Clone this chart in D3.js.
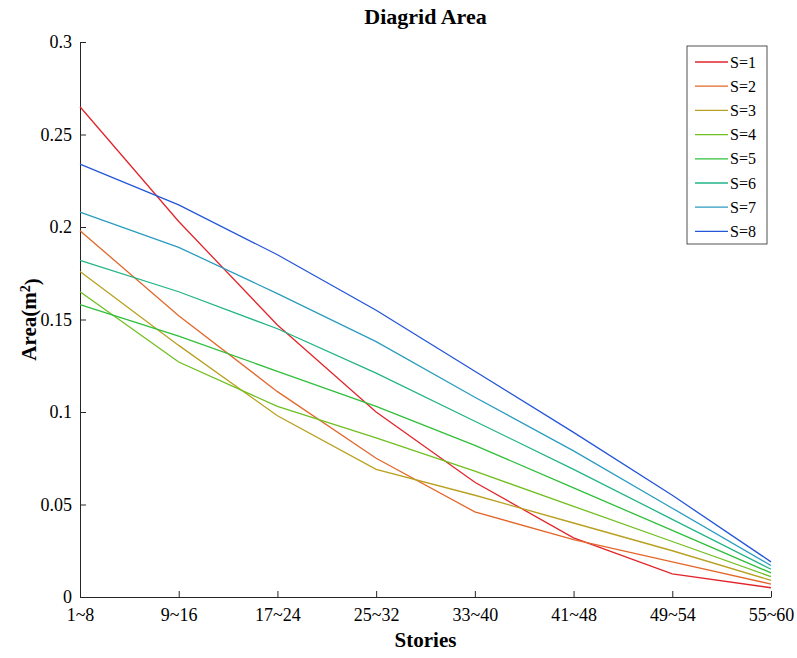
<!DOCTYPE html>
<html>
<head>
<meta charset="utf-8">
<script src="https://cdn.jsdelivr.net/npm/d3@7"></script>
<style>
  body { margin: 0; background: #fff; }
  svg { font-family: "Liberation Serif", "Times New Roman", serif; }
  .axis path, .axis line { stroke: #262626; }
  .axis text { fill: #000; font-size: 18px; font-family: "Liberation Serif", serif; }
</style>
</head>
<body>
<div id="vis"></div>
<script>
// Categories on the x axis
var stories = ['1~8', '9~16', '17~24', '25~32', '33~40', '41~48', '49~54', '55~60'];

// One value list per series (area in m^2)
var s1 = [0.265, 0.203, 0.147, 0.100, 0.062, 0.032, 0.0125, 0.005];
var s2 = [0.198, 0.152, 0.111, 0.075, 0.046, 0.031, 0.019, 0.007];
var s3 = [0.176, 0.136, 0.098, 0.069, 0.055, 0.040, 0.025, 0.009];
var s4 = [0.165, 0.127, 0.103, 0.086, 0.068, 0.049, 0.030, 0.011];
var s5 = [0.158, 0.141, 0.122, 0.103, 0.082, 0.059, 0.036, 0.013];
var s6 = [0.182, 0.165, 0.145, 0.121, 0.095, 0.069, 0.042, 0.015];
var s7 = [0.208, 0.189, 0.164, 0.138, 0.108, 0.079, 0.048, 0.017];
var s8 = [0.234, 0.212, 0.185, 0.155, 0.122, 0.089, 0.055, 0.019];

var seriesNames = ['S=1', 'S=2', 'S=3', 'S=4', 'S=5', 'S=6', 'S=7', 'S=8'];
var colors = ['#e2252b', '#e3672a', '#b9a020', '#6fbf1f', '#2fbf3a', '#22b487', '#2a9cc0', '#2456d8'];

// Y tick values
var yTicks = [0, 0.05, 0.1, 0.15, 0.2, 0.25, 0.3];

var allSeries = [s1, s2, s3, s4, s5, s6, s7, s8];

// Size of the page and space for axes/titles
var width = 797, height = 658;
var margin = { left: 80, right: 26, top: 42, bottom: 61 };
var drawWidth = width - margin.left - margin.right;
var drawHeight = height - margin.top - margin.bottom;

var svg = d3.select('#vis')
    .append('svg')
    .attr('width', width)
    .attr('height', height);

var g = svg.append('g')
    .attr('transform', 'translate(' + margin.left + ',' + margin.top + ')');

// Scales
var xScale = d3.scalePoint()
    .domain(stories)
    .range([0, drawWidth]);

var yScale = d3.scaleLinear()
    .domain([0, 0.3])
    .range([drawHeight, 0]);

// Axes, ticks pointing inward
var xAxis = d3.axisBottom(xScale)
    .tickSize(-6)
    .tickSizeOuter(0)
    .tickPadding(11);

var yAxis = d3.axisLeft(yScale)
    .tickValues(yTicks)
    .tickFormat(d3.format('~g'))
    .tickSize(-6)
    .tickSizeOuter(0)
    .tickPadding(8);

g.append('g')
    .attr('class', 'axis')
    .attr('transform', 'translate(0,' + drawHeight + ')')
    .call(xAxis);

g.append('g')
    .attr('class', 'axis')
    .call(yAxis);

// Lines
var line = d3.line()
    .x(function(d, i) { return xScale(stories[i]); })
    .y(function(d) { return yScale(d); });

g.selectAll('.series')
    .data(allSeries)
    .enter().append('path')
    .attr('class', 'series')
    .attr('fill', 'none')
    .attr('stroke', function(d, i) { return colors[i]; })
    .attr('stroke-width', 1.3)
    .attr('d', line);

// Title
svg.append('text')
    .attr('x', margin.left + drawWidth / 2)
    .attr('y', 24)
    .attr('text-anchor', 'middle')
    .style('font-size', '22px')
    .style('font-weight', 'bold')
    .text('Diagrid Area');

// X axis title
svg.append('text')
    .attr('x', margin.left + drawWidth / 2)
    .attr('y', 647)
    .attr('text-anchor', 'middle')
    .style('font-size', '21px')
    .style('font-weight', 'bold')
    .text('Stories');

// Y axis title with superscript
var yTitle = svg.append('text')
    .attr('transform', 'translate(36,' + (margin.top + drawHeight / 2) + ') rotate(-90)')
    .attr('text-anchor', 'middle')
    .style('font-size', '21px')
    .style('font-weight', 'bold');
yTitle.append('tspan').text('Area(m');
yTitle.append('tspan').attr('dy', '-0.45em').style('font-size', '14px').text('2');
yTitle.append('tspan').attr('dy', '0.45em').text(')');

// Legend
var legend = svg.append('g')
    .attr('transform', 'translate(687,46)');

legend.append('rect')
    .attr('width', 80)
    .attr('height', 198)
    .attr('fill', '#fff')
    .attr('stroke', '#262626')
    .attr('stroke-width', 0.8);

var items = legend.selectAll('.item')
    .data(seriesNames)
    .enter().append('g')
    .attr('class', 'item')
    .attr('transform', function(d, i) { return 'translate(0,' + (16 + i * 24.2) + ')'; });

items.append('line')
    .attr('x1', 8)
    .attr('x2', 41)
    .attr('stroke', function(d, i) { return colors[i]; })
    .attr('stroke-width', 1.3);

items.append('text')
    .attr('x', 43)
    .attr('dy', '0.35em')
    .style('font-size', '16px')
    .text(function(d) { return d; });
</script>
</body>
</html>
